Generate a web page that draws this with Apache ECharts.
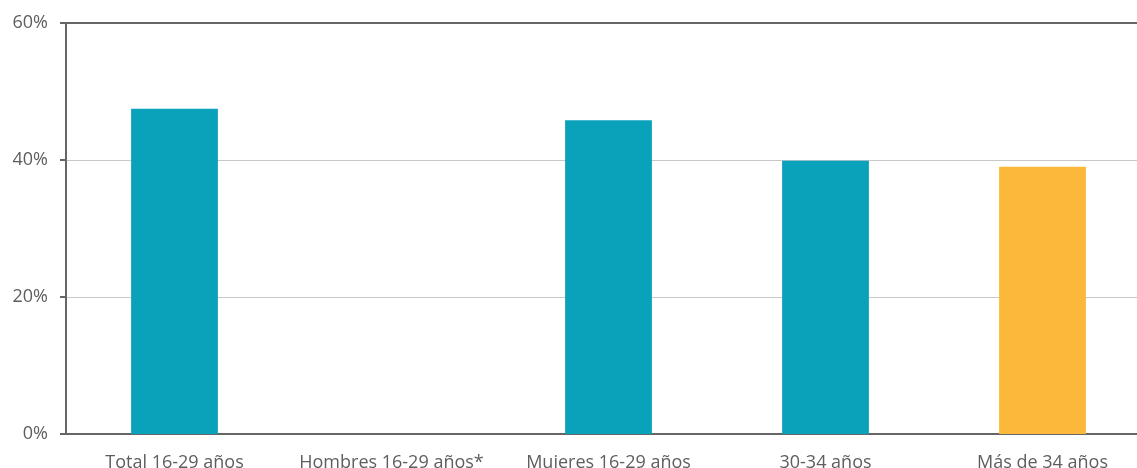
<!DOCTYPE html>
<html><head><meta charset="utf-8">
<script src="https://cdn.jsdelivr.net/npm/echarts@6/dist/echarts.min.js"></script>
<style>html,body{margin:0;padding:0;background:#fff;overflow:hidden}#c{width:1137px;height:468px}</style>
</head><body><div id="c"></div>
<script>
const categories = ['Total 16-29 años','Hombres 16-29 años*','Mujeres 16-29 años','30-34 años','Más de 34 años'];
const values = [47.5, null, 45.8, 39.9, 39.0];
const barColors = ['#0aa2bb','#0aa2bb','#0aa2bb','#0aa2bb','#fbb83a'];
const yTicks = [0,20,40,60];

const chart = echarts.init(document.getElementById('c'));
chart.setOption({
  animation:false,
  grid:{left:66,width:1085,top:23,height:411,outerBoundsMode:'none',containLabel:false},
  xAxis:[{
    type:'category',data:categories,
    axisLine:{lineStyle:{color:'#666',width:2}},
    axisTick:{show:false},
    axisLabel:{color:'#5e5e5e',fontSize:18,fontFamily:'Open Sans',margin:20,interval:0}
  },{
    type:'category',data:categories,position:'top',
    axisLine:{lineStyle:{color:'#666',width:2}},
    axisTick:{show:false},axisLabel:{show:false}
  }],
  yAxis:{
    type:'value',min:0,max:60,interval:20,
    axisLine:{show:true,lineStyle:{color:'#666',width:2}},
    axisTick:{show:true,length:6,lineStyle:{color:'#666',width:2}},
    splitLine:{lineStyle:{color:'#c8c8c8',width:1}},
    axisLabel:{color:'#5e5e5e',fontSize:18,fontFamily:'Open Sans',margin:18,formatter:v=>v+'%'}
  },
  series:[{
    type:'bar',barWidth:'40%',
    data:values.map((v,i)=>({value:v,itemStyle:{color:barColors[i]}}))
  }]
});
</script></body></html>
